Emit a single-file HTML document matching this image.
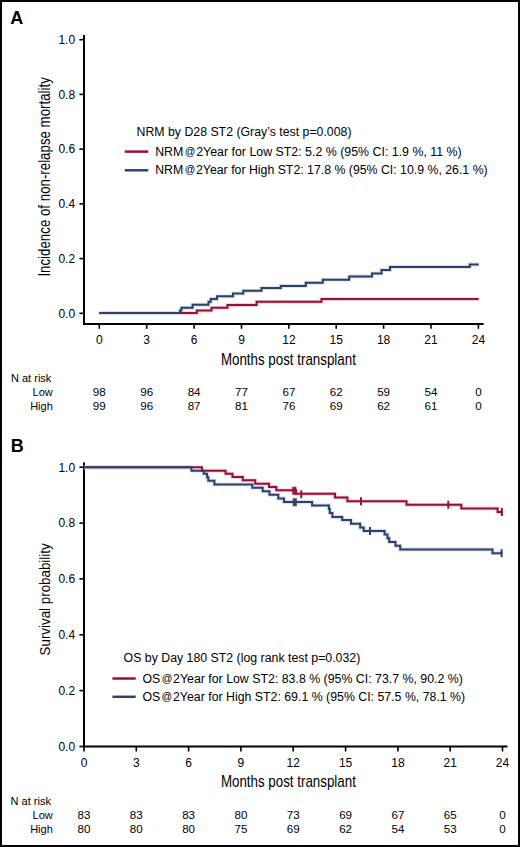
<!DOCTYPE html>
<html><head><meta charset="utf-8"><title>Figure</title>
<style>
html,body{margin:0;padding:0;background:#fff;}
body{width:520px;height:847px;position:relative;overflow:hidden;font-family:"Liberation Sans", sans-serif;}
</style></head>
<body>
<svg width="520" height="847" viewBox="0 0 520 847" style="position:absolute;left:0;top:0">
<rect x="0" y="0" width="520" height="847" fill="#fff"/>
<text x="10.3" y="23.7" font-family='"Liberation Sans", sans-serif' font-weight="bold" font-size="18" fill="#000">A</text>
<g stroke="#000" stroke-width="2" fill="none" stroke-linecap="butt">
<path d="M84.0 35 V325 M83 324 H483.6"/>
<path d="M79.4 313.3 H84" stroke-width="1.6"/>
<path d="M79.4 258.6 H84" stroke-width="1.6"/>
<path d="M79.4 203.9 H84" stroke-width="1.6"/>
<path d="M79.4 149.1 H84" stroke-width="1.6"/>
<path d="M79.4 94.4 H84" stroke-width="1.6"/>
<path d="M79.4 39.7 H84" stroke-width="1.6"/>
<path d="M99.3 324 V328.8" stroke-width="1.6"/>
<path d="M146.7 324 V328.8" stroke-width="1.6"/>
<path d="M194.1 324 V328.8" stroke-width="1.6"/>
<path d="M241.5 324 V328.8" stroke-width="1.6"/>
<path d="M288.9 324 V328.8" stroke-width="1.6"/>
<path d="M336.2 324 V328.8" stroke-width="1.6"/>
<path d="M383.6 324 V328.8" stroke-width="1.6"/>
<path d="M431.0 324 V328.8" stroke-width="1.6"/>
<path d="M478.4 324 V328.8" stroke-width="1.6"/>
</g>
<g font-family='"Liberation Sans", sans-serif' font-size="12" fill="#000" text-anchor="end">
<text x="75.1" y="317.6">0.0</text>
<text x="75.1" y="262.9">0.2</text>
<text x="75.1" y="208.2">0.4</text>
<text x="75.1" y="153.4">0.6</text>
<text x="75.1" y="98.7">0.8</text>
<text x="75.1" y="44.0">1.0</text>
</g>
<g font-family='"Liberation Sans", sans-serif' font-size="12" fill="#000" text-anchor="middle">
<text x="99.3" y="344">0</text>
<text x="146.7" y="344">3</text>
<text x="194.1" y="344">6</text>
<text x="241.5" y="344">9</text>
<text x="288.9" y="344">12</text>
<text x="336.2" y="344">15</text>
<text x="383.6" y="344">18</text>
<text x="431.0" y="344">21</text>
<text x="478.4" y="344">24</text>
</g>
<text x="220.9" y="365.0" font-family='"Liberation Sans", sans-serif' font-size="15.7" textLength="135" lengthAdjust="spacingAndGlyphs">Months post transplant</text>
<text transform="translate(50.2 276.6) rotate(-90)" x="0" y="0" font-family='"Liberation Sans", sans-serif' font-size="15.8" textLength="199.4" lengthAdjust="spacingAndGlyphs">Incidence of non-relapse mortality</text>
<path d="M99 313.1 H196.8 V310.6 H211.5 V307.8 H227.5 V305 H256.6 V301.8 H321.5 V299.1 H478.7" stroke="#f2d0da" stroke-width="3.8" fill="none"/>
<path d="M99 313.1 H180 V310.4 H181.5 V307.8 H192.6 V304.7 H208.5 V301.8 H210.8 V299 H217 V296.3 H233 V293.5 H243.3 V290.8 H261.5 V288.1 H280.8 V285.9 H305.8 V282.8 H322.8 V279.7 H349.2 V276.5 H372 V273.4 H381.5 V270.1 H390 V266.9 H469.8 V264.4 H478.7" stroke="#d6dce8" stroke-width="3.8" fill="none"/>
<path d="M99 313.1 H196.8 V310.6 H211.5 V307.8 H227.5 V305 H256.6 V301.8 H321.5 V299.1 H478.7" stroke="#981036" stroke-width="2" fill="none"/>
<path d="M99 313.1 H180 V310.4 H181.5 V307.8 H192.6 V304.7 H208.5 V301.8 H210.8 V299 H217 V296.3 H233 V293.5 H243.3 V290.8 H261.5 V288.1 H280.8 V285.9 H305.8 V282.8 H322.8 V279.7 H349.2 V276.5 H372 V273.4 H381.5 V270.1 H390 V266.9 H469.8 V264.4 H478.7" stroke="#2a426c" stroke-width="2" fill="none"/>
<g font-family='"Liberation Sans", sans-serif' font-size="12.3" fill="#000">
<text x="136.5" y="135.6" textLength="215" lengthAdjust="spacingAndGlyphs">NRM by D28 ST2 (Gray&#8217;s test p=0.008)</text>
<text x="155.2" y="156" textLength="306.5" lengthAdjust="spacingAndGlyphs">NRM<tspan font-size="10.4" dx="1.4" dy="-1.0">@</tspan><tspan dx="0.8" dy="1.0">2Year for Low ST2: 5.2 % (95% CI: 1.9 %, 11 %)</tspan></text>
<text x="155.2" y="174.3" textLength="332.5" lengthAdjust="spacingAndGlyphs">NRM<tspan font-size="10.4" dx="1.4" dy="-1.0">@</tspan><tspan dx="0.8" dy="1.0">2Year for High ST2: 17.8 % (95% CI: 10.9 %, 26.1 %)</tspan></text>
</g>
<path d="M124.8 151.6 H148.3" stroke="#981036" stroke-width="2.5"/>
<path d="M124.8 170.3 H148.3" stroke="#2a426c" stroke-width="2.5"/>
<g font-family='"Liberation Sans", sans-serif' font-size="11" fill="#000">
<text x="11" y="382.2">N at risk</text>
<text x="52.8" y="396" text-anchor="end">Low</text>
<text x="52.8" y="409.6" text-anchor="end">High</text>
<text x="99.3" y="396.2" text-anchor="middle" font-size="11.6">98</text>
<text x="99.3" y="409.8" text-anchor="middle" font-size="11.6">99</text>
<text x="146.7" y="396.2" text-anchor="middle" font-size="11.6">96</text>
<text x="146.7" y="409.8" text-anchor="middle" font-size="11.6">96</text>
<text x="194.1" y="396.2" text-anchor="middle" font-size="11.6">84</text>
<text x="194.1" y="409.8" text-anchor="middle" font-size="11.6">87</text>
<text x="241.5" y="396.2" text-anchor="middle" font-size="11.6">77</text>
<text x="241.5" y="409.8" text-anchor="middle" font-size="11.6">81</text>
<text x="288.9" y="396.2" text-anchor="middle" font-size="11.6">67</text>
<text x="288.9" y="409.8" text-anchor="middle" font-size="11.6">76</text>
<text x="336.2" y="396.2" text-anchor="middle" font-size="11.6">62</text>
<text x="336.2" y="409.8" text-anchor="middle" font-size="11.6">69</text>
<text x="383.6" y="396.2" text-anchor="middle" font-size="11.6">59</text>
<text x="383.6" y="409.8" text-anchor="middle" font-size="11.6">62</text>
<text x="431.0" y="396.2" text-anchor="middle" font-size="11.6">54</text>
<text x="431.0" y="409.8" text-anchor="middle" font-size="11.6">61</text>
<text x="478.4" y="396.2" text-anchor="middle" font-size="11.6">0</text>
<text x="478.4" y="409.8" text-anchor="middle" font-size="11.6">0</text>
</g>
<text x="10.8" y="451.8" font-family='"Liberation Sans", sans-serif' font-weight="bold" font-size="18" fill="#000">B</text>
<g stroke="#000" stroke-width="2" fill="none">
<path d="M84 462.5 V747.5 M83 746.5 H507.5"/>
<path d="M79.4 746.5 H84" stroke-width="1.6"/>
<path d="M79.4 690.6 H84" stroke-width="1.6"/>
<path d="M79.4 634.8 H84" stroke-width="1.6"/>
<path d="M79.4 578.9 H84" stroke-width="1.6"/>
<path d="M79.4 523.1 H84" stroke-width="1.6"/>
<path d="M79.4 467.2 H84" stroke-width="1.6"/>
<path d="M84.0 746.5 V751.5" stroke-width="1.6"/>
<path d="M136.3 746.5 V751.5" stroke-width="1.6"/>
<path d="M188.6 746.5 V751.5" stroke-width="1.6"/>
<path d="M240.9 746.5 V751.5" stroke-width="1.6"/>
<path d="M293.2 746.5 V751.5" stroke-width="1.6"/>
<path d="M345.6 746.5 V751.5" stroke-width="1.6"/>
<path d="M397.9 746.5 V751.5" stroke-width="1.6"/>
<path d="M450.2 746.5 V751.5" stroke-width="1.6"/>
<path d="M502.5 746.5 V751.5" stroke-width="1.6"/>
</g>
<g font-family='"Liberation Sans", sans-serif' font-size="12" fill="#000" text-anchor="end">
<text x="75.1" y="750.8">0.0</text>
<text x="75.1" y="694.9">0.2</text>
<text x="75.1" y="639.1">0.4</text>
<text x="75.1" y="583.2">0.6</text>
<text x="75.1" y="527.4">0.8</text>
<text x="75.1" y="471.5">1.0</text>
</g>
<g font-family='"Liberation Sans", sans-serif' font-size="12" fill="#000" text-anchor="middle">
<text x="84.0" y="767">0</text>
<text x="136.3" y="767">3</text>
<text x="188.6" y="767">6</text>
<text x="240.9" y="767">9</text>
<text x="293.2" y="767">12</text>
<text x="345.6" y="767">15</text>
<text x="397.9" y="767">18</text>
<text x="450.2" y="767">21</text>
<text x="502.5" y="767">24</text>
</g>
<text x="220.9" y="787.2" font-family='"Liberation Sans", sans-serif' font-size="15.7" textLength="135" lengthAdjust="spacingAndGlyphs">Months post transplant</text>
<text transform="translate(50.0 655.4) rotate(-90)" x="0" y="0" font-family='"Liberation Sans", sans-serif' font-size="15.1" textLength="112" lengthAdjust="spacingAndGlyphs">Survival probability</text>
<path d="M84 467.3 H201.9 V470.7 H225.6 V473.8 H232.5 V477 H242.8 V480.2 H255.2 V483.7 H269 V486.9 H276.3 V490.3 H296 V493.8 H335 V497.5 H347.4 V501.2 H406.5 V504.8 H461.3 V508.4 H497.6 V511.9 H502.5" stroke="#f2d0da" stroke-width="3.8" fill="none"/>
<path d="M84 467.3 H191.5 V470.7 H203.7 V473.7 H207.1 V477.3 H208.3 V480.8 H214.4 V484.4 H252.3 V487.7 H262.7 V491.3 H269.5 V494.8 H278.3 V498.5 H284 V501.9 H312.1 V505.4 H328.9 V508.9 H329.8 V512.9 H332.4 V516.9 H342.2 V520.1 H351 V523.7 H360.2 V527.5 H363.7 V530.9 H384.6 V534.4 H387.5 V538.2 H389.2 V541.9 H395.5 V545.8 H400.2 V549.5 H492.5 V553.2 H502.5" stroke="#d6dce8" stroke-width="3.8" fill="none"/>
<path d="M84 467.3 H201.9 V470.7 H225.6 V473.8 H232.5 V477 H242.8 V480.2 H255.2 V483.7 H269 V486.9 H276.3 V490.3 H296 V493.8 H335 V497.5 H347.4 V501.2 H406.5 V504.8 H461.3 V508.4 H497.6 V511.9 H502.5" stroke="#981036" stroke-width="2" fill="none"/>
<path d="M84 467.3 H191.5 V470.7 H203.7 V473.7 H207.1 V477.3 H208.3 V480.8 H214.4 V484.4 H252.3 V487.7 H262.7 V491.3 H269.5 V494.8 H278.3 V498.5 H284 V501.9 H312.1 V505.4 H328.9 V508.9 H329.8 V512.9 H332.4 V516.9 H342.2 V520.1 H351 V523.7 H360.2 V527.5 H363.7 V530.9 H384.6 V534.4 H387.5 V538.2 H389.2 V541.9 H395.5 V545.8 H400.2 V549.5 H492.5 V553.2 H502.5" stroke="#2a426c" stroke-width="2" fill="none"/>
<path d="M293.3 486.7 V494.7 M295.4 486.7 V494.7 M301.3 490.2 V498.2 M361 497.2 V505.2 M448.3 500.8 V508.8 M501.9 507.9 V515.9" stroke="#981036" stroke-width="2"/>
<path d="M293.7 498.3 V506.3 M295.8 498.3 V506.3 M370 526.9 V534.9 M501.6 549.2 V557.2" stroke="#2a426c" stroke-width="2"/>
<g font-family='"Liberation Sans", sans-serif' font-size="12.3" fill="#000">
<text x="123.6" y="661.9" textLength="236.7" lengthAdjust="spacingAndGlyphs">OS by Day 180 ST2 (log rank test p=0.032)</text>
<text x="142.4" y="682.6" textLength="320.5" lengthAdjust="spacingAndGlyphs">OS<tspan font-size="10.4" dx="1.4" dy="-1.0">@</tspan><tspan dx="0.8" dy="1.0">2Year for Low ST2: 83.8 % (95% CI: 73.7 %, 90.2 %)</tspan></text>
<text x="142.4" y="700.9" textLength="322.8" lengthAdjust="spacingAndGlyphs">OS<tspan font-size="10.4" dx="1.4" dy="-1.0">@</tspan><tspan dx="0.8" dy="1.0">2Year for High ST2: 69.1 % (95% CI: 57.5 %, 78.1 %)</tspan></text>
</g>
<path d="M112.4 678.5 H135.7" stroke="#981036" stroke-width="2.5"/>
<path d="M112.4 696.8 H135.7" stroke="#2a426c" stroke-width="2.5"/>
<g font-family='"Liberation Sans", sans-serif' font-size="11" fill="#000">
<text x="10.6" y="805">N at risk</text>
<text x="52.8" y="818.8" text-anchor="end">Low</text>
<text x="52.8" y="832.5" text-anchor="end">High</text>
<text x="84.0" y="819" text-anchor="middle" font-size="11.6">83</text>
<text x="84.0" y="832.7" text-anchor="middle" font-size="11.6">80</text>
<text x="136.3" y="819" text-anchor="middle" font-size="11.6">83</text>
<text x="136.3" y="832.7" text-anchor="middle" font-size="11.6">80</text>
<text x="188.6" y="819" text-anchor="middle" font-size="11.6">83</text>
<text x="188.6" y="832.7" text-anchor="middle" font-size="11.6">80</text>
<text x="240.9" y="819" text-anchor="middle" font-size="11.6">80</text>
<text x="240.9" y="832.7" text-anchor="middle" font-size="11.6">75</text>
<text x="293.2" y="819" text-anchor="middle" font-size="11.6">73</text>
<text x="293.2" y="832.7" text-anchor="middle" font-size="11.6">69</text>
<text x="345.6" y="819" text-anchor="middle" font-size="11.6">69</text>
<text x="345.6" y="832.7" text-anchor="middle" font-size="11.6">62</text>
<text x="397.9" y="819" text-anchor="middle" font-size="11.6">67</text>
<text x="397.9" y="832.7" text-anchor="middle" font-size="11.6">54</text>
<text x="450.2" y="819" text-anchor="middle" font-size="11.6">65</text>
<text x="450.2" y="832.7" text-anchor="middle" font-size="11.6">53</text>
<text x="502.5" y="819" text-anchor="middle" font-size="11.6">0</text>
<text x="502.5" y="832.7" text-anchor="middle" font-size="11.6">0</text>
</g>
<rect x="1" y="1" width="518" height="845" fill="none" stroke="#000" stroke-width="2"/>
</svg>
</body></html>
